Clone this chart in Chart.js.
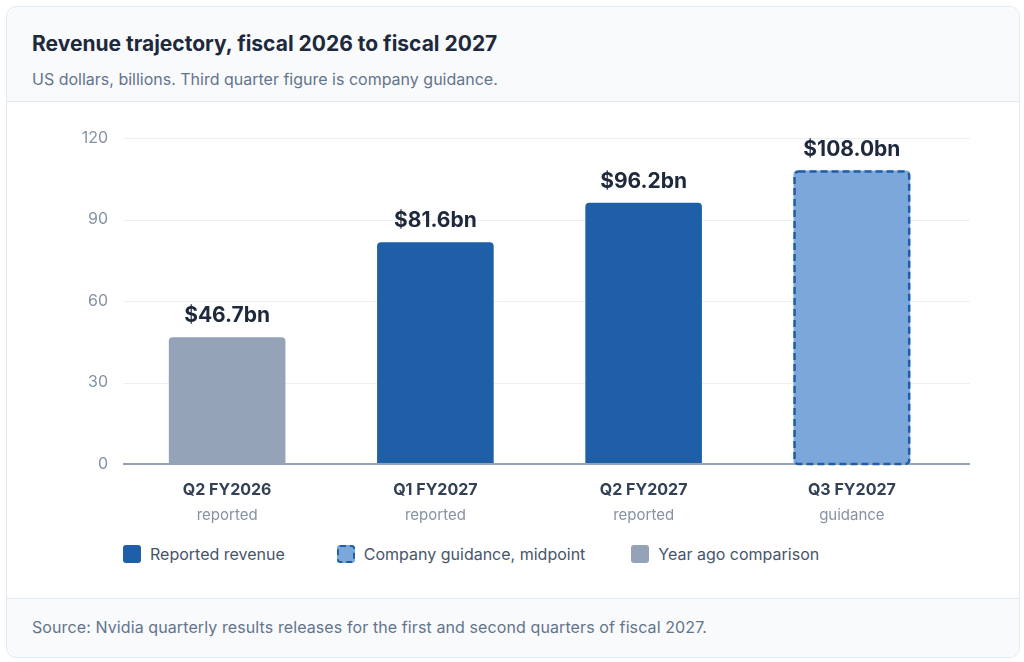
<!DOCTYPE html>
<html>
<head>
<meta charset="utf-8">
<script src="https://cdn.jsdelivr.net/npm/chart.js@4.4.1/dist/chart.umd.min.js"></script>
<style>
  html, body { margin: 0; padding: 0; background: #ffffff; font-family: Inter, sans-serif; }
  .card { position: absolute; left: 6px; top: 6px; width: 1012px; height: 650px; border: 1px solid #e2e8f0; border-radius: 10px; overflow: hidden; background: #fff; }
  .head { position: absolute; left: 0; top: 0; width: 100%; height: 94px; background: #f8fafc; border-bottom: 1px solid #e2e8f0; }
  .title { position: absolute; left: 25px; top: 24px; font-size: 21px; font-weight: 700; color: #1e293b; }
  .sub { position: absolute; left: 25px; top: 62px; font-size: 16px; color: #64748b; }
  .wrap { position: absolute; left: 0; top: 95px; width: 1012px; height: 430px; }
  .legend { position: absolute; left: 116px; top: 537px; display: flex; font-size: 16px; color: #475569; }
  .legend span.item { display: flex; align-items: center; margin-right: 52px; }
  .legend span.item:nth-child(2) { margin-right: 46px; }
  .legend i { display: inline-block; width: 18px; height: 18px; border-radius: 3px; margin-right: 9px; box-sizing: border-box; }
  .foot { position: absolute; left: 0; top: 591px; width: 100%; height: 60px; background: #f8fafc; border-top: 1px solid #e2e8f0; }
  .foot div { position: absolute; left: 25px; top: 18px; font-size: 16px; color: #64748b; letter-spacing: 0.1px; }
</style>
</head>
<body>
<div class="card">
  <div class="head">
    <div class="title">Revenue trajectory, fiscal 2026 to fiscal 2027</div>
    <div class="sub">US dollars, billions. Third quarter figure is company guidance.</div>
  </div>
  <div class="wrap"><canvas id="revChart"></canvas></div>
  <div class="legend" id="legend"></div>
  <div class="foot"><div>Source: Nvidia quarterly results releases for the first and second quarters of fiscal 2027.</div></div>
</div>
<script>
var quarters = ['Q2 FY2026', 'Q1 FY2027', 'Q2 FY2027', 'Q3 FY2027'];
var quarterStatus = ['reported', 'reported', 'reported', 'guidance'];
var revenue = [46.7, 81.6, 96.2, 108.0];
var yTicks = [0, 30, 60, 90, 120];

var legendNames = ['Reported revenue', 'Company guidance, midpoint', 'Year ago comparison'];

var BLUE = '#1f5fa8';
var LIGHT = '#7ba7db';
var GREY = '#94a3b8';
var barColors = [GREY, BLUE, BLUE, LIGHT];
var legendColors = [BLUE, LIGHT, GREY];

// legend
var lg = document.getElementById('legend');
legendNames.forEach(function (name, i) {
  var dashed = legendColors[i] === LIGHT ? 'border:2px dashed ' + BLUE + ';' : '';
  lg.innerHTML += '<span class="item"><i style="background:' + legendColors[i] + ';' + dashed + '"></i>' + name + '</span>';
});

// grid lines reach a little past the last bar, value labels, dashed guidance outline
var extras = {
  id: 'extras',
  beforeDatasetsDraw: function (chart) {
    var ctx = chart.ctx, y = chart.scales.y, area = chart.chartArea;
    ctx.save();
    yTicks.forEach(function (t) {
      var py = Math.round(y.getPixelForValue(t)) + 0.5;
      ctx.beginPath();
      ctx.strokeStyle = '#eceff3';
      ctx.lineWidth = 1;
      ctx.moveTo(area.left, py);
      ctx.lineTo(area.right + 14, py);
      ctx.stroke();
    });
    ctx.restore();
  },
  afterDatasetsDraw: function (chart) {
    var ctx = chart.ctx, y = chart.scales.y, area = chart.chartArea;
    var meta = chart.getDatasetMeta(0);
    ctx.save();
    // zero line
    var p0 = y.getPixelForValue(0);
    ctx.beginPath();
    ctx.strokeStyle = '#94a3b8';
    ctx.lineWidth = 2;
    ctx.moveTo(area.left, p0);
    ctx.lineTo(area.right + 14, p0);
    ctx.stroke();
    meta.data.forEach(function (bar, i) {
      if (quarterStatus[i] === 'guidance') {
        var w = bar.width;
        ctx.beginPath();
        ctx.setLineDash([7, 4]);
        ctx.strokeStyle = BLUE;
        ctx.lineWidth = 2.5;
        ctx.roundRect(bar.x - w / 2 + 1, bar.y + 1, w - 2, bar.base - bar.y - 1, 4);
        ctx.stroke();
        ctx.setLineDash([]);
      }
      ctx.fillStyle = '#1e293b';
      ctx.font = '700 21px Inter';
      ctx.textAlign = 'center';
      ctx.textBaseline = 'alphabetic';
      ctx.fillText('$' + revenue[i].toFixed(1) + 'bn', bar.x, bar.y - 15);
    });
    ctx.restore();
  }
};

new Chart(document.getElementById('revChart'), {
  type: 'bar',
  data: {
    labels: quarters,
    datasets: [{
      label: 'Revenue',
      data: revenue,
      backgroundColor: barColors,
      borderRadius: 4,
      borderSkipped: 'bottom',
      categoryPercentage: 0.8,
      barPercentage: 0.7
    }]
  },
  options: {
    responsive: true,
    maintainAspectRatio: false,
    animation: false,
    layout: { padding: { top: 36, right: 63, left: 0, bottom: 0 } },
    plugins: { legend: { display: false }, tooltip: { enabled: false } },
    scales: {
      x: {
        grid: { display: false, drawTicks: false },
        border: { display: false },
        ticks: { color: '#334155', font: { family: 'Inter', size: 16, weight: '700' }, padding: 17 },
        afterFit: function (s) { s.height = 38; }
      },
      x2: {
        type: 'category',
        position: 'bottom',
        labels: quarterStatus,
        grid: { display: false, drawTicks: false },
        border: { display: false },
        ticks: { color: '#8592a4', font: { family: 'Inter', size: 15 }, padding: 4 },
        afterFit: function (s) { s.height = 30; }
      },
      y: {
        min: 0,
        max: 120,
        afterBuildTicks: function (s) { s.ticks = yTicks.map(function (v) { return { value: v }; }); },
        grid: { display: false, drawTicks: false },
        border: { display: false },
        ticks: { color: '#8592a4', font: { family: 'Inter', size: 16 }, padding: 15 },
        afterFit: function (s) { s.width = 116; }
      }
    }
  },
  plugins: [extras]
});
</script>
</body>
</html>
